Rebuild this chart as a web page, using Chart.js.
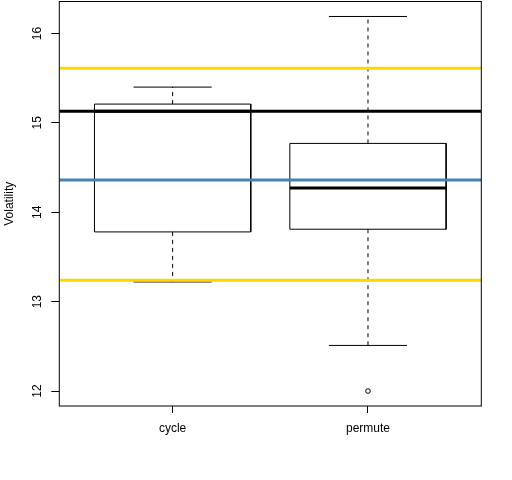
<!DOCTYPE html>
<html>
<head>
<meta charset="utf-8">
<script src="https://cdn.jsdelivr.net/npm/chart.js@4.4.0/dist/chart.umd.min.js"></script>
<style>
  html, body { margin: 0; padding: 0; background: #ffffff; }
  #wrap { width: 512px; height: 480px; }
</style>
</head>
<body>
<div id="wrap"><canvas id="c" width="512" height="480"></canvas></div>
<script>
// ---- data ----
const categories   = ['cycle', 'permute'];
const lowerWhisker = [13.22, 12.51];
const q1           = [13.78, 13.81];
const median       = [15.13, 14.27];
const q3           = [15.21, 14.77];
const upperWhisker = [15.40, 16.19];
const outliers     = [[], [12.00]];
const yTickValues  = [12, 13, 14, 15, 16];
const refLineValues = [15.61, 13.24, 15.13, 14.36];
const refLineColors = ['#FFD700', '#FFD700', '#000000', '#4682B4'];
const yTitle = 'Volatility';

// ---- axis ranges as R computes them (4% expansion) ----
const allVals = [].concat(lowerWhisker, upperWhisker, ...outliers);
const dMin = Math.min(...allVals), dMax = Math.max(...allVals);
const yPad = (dMax - dMin) * 0.04;
const yMin = dMin - yPad, yMax = dMax + yPad;
const xLo = 0.5, xHi = categories.length + 0.5;
const xPad = (xHi - xLo) * 0.04;
const xMin = xLo - xPad, xMax = xHi + xPad;

const BOX_HALF = 0.4, CAP_HALF = 0.2;
const datasets = [];

function seg(points, opts) {
  return Object.assign({
    data: points, showLine: true, pointRadius: 0, pointHoverRadius: 0,
    borderColor: '#000', borderWidth: 1, fill: false, tension: 0, order: 2
  }, opts);
}

categories.forEach((cat, i) => {
  const c = i + 1;
  // box
  datasets.push(seg([
    {x: c - BOX_HALF, y: q1[i]}, {x: c - BOX_HALF, y: q3[i]},
    {x: c + BOX_HALF, y: q3[i]}, {x: c + BOX_HALF, y: q1[i]},
    {x: c - BOX_HALF, y: q1[i]}
  ], {borderJoinStyle: 'miter'}));
  // whiskers (dashed)
  datasets.push(seg([{x: c, y: q3[i]}, {x: c, y: upperWhisker[i]}], {borderDash: [4, 4]}));
  datasets.push(seg([{x: c, y: q1[i]}, {x: c, y: lowerWhisker[i]}], {borderDash: [4, 4]}));
  // caps
  datasets.push(seg([{x: c - CAP_HALF, y: upperWhisker[i]}, {x: c + CAP_HALF, y: upperWhisker[i]}]));
  datasets.push(seg([{x: c - CAP_HALF, y: lowerWhisker[i]}, {x: c + CAP_HALF, y: lowerWhisker[i]}]));
  // median
  datasets.push(seg([{x: c - BOX_HALF, y: median[i]}, {x: c + BOX_HALF, y: median[i]}], {borderWidth: 3}));
  // outliers
  if (outliers[i].length) {
    datasets.push({
      data: outliers[i].map(v => ({x: c, y: v})), showLine: false,
      pointRadius: 2.3, pointStyle: 'circle', pointBorderColor: '#000',
      pointBackgroundColor: '#fff', pointBorderWidth: 1, order: 2
    });
  }
});

// reference lines across the full plot
refLineValues.forEach((v, k) => {
  datasets.push(seg([{x: xMin, y: v}, {x: xMax, y: v}], {
    borderColor: refLineColors[k], borderWidth: 3, order: 0
  }));
});

const FONT = '12px "Liberation Sans", Arial, sans-serif';

const framePlugin = {
  id: 'rframe',
  afterDraw(chart) {
    const {ctx, chartArea: a, scales} = chart;
    ctx.save();
    ctx.strokeStyle = '#000';
    ctx.lineWidth = 1;
    ctx.strokeRect(a.left, a.top, a.right - a.left, a.bottom - a.top);
    ctx.fillStyle = '#000';
    ctx.font = FONT;
    // y tick labels (rotated, like R)
    yTickValues.forEach(v => {
      const py = scales.y.getPixelForValue(v);
      ctx.save();
      ctx.translate(a.left - 21.5, py);
      ctx.rotate(-Math.PI / 2);
      ctx.textAlign = 'center';
      ctx.textBaseline = 'middle';
      ctx.fillText(String(v), 0, 0);
      ctx.restore();
    });
    // x category labels
    categories.forEach((cat, i) => {
      const px = scales.x.getPixelForValue(i + 1);
      ctx.textAlign = 'center';
      ctx.textBaseline = 'middle';
      ctx.fillText(cat, px, a.bottom + 23);
    });
    // y title
    ctx.save();
    ctx.translate(10, (a.top + a.bottom) / 2);
    ctx.rotate(-Math.PI / 2);
    ctx.textAlign = 'center';
    ctx.textBaseline = 'middle';
    ctx.fillText(yTitle, 0, 0);
    ctx.restore();
    ctx.restore();
  }
};

new Chart(document.getElementById('c'), {
  type: 'scatter',
  data: { datasets },
  plugins: [framePlugin],
  options: {
    responsive: false,
    animation: false,
    devicePixelRatio: 1,
    layout: { autoPadding: false, padding: { left: 0, top: 1.5, right: 30.7, bottom: 0 } },
    plugins: { legend: { display: false }, tooltip: { enabled: false } },
    scales: {
      x: {
        type: 'linear', min: xMin, max: xMax,
        afterBuildTicks: s => { s.ticks = categories.map((c, i) => ({ value: i + 1 })); },
        afterFit: s => { s.height = 74; },
        ticks: { display: false },
        border: { display: false },
        grid: { drawOnChartArea: false, drawTicks: true, tickLength: 7, color: '#000', lineWidth: 1 }
      },
      y: {
        type: 'linear', min: yMin, max: yMax,
        afterBuildTicks: s => { s.ticks = yTickValues.map(v => ({ value: v })); },
        afterFit: s => { s.width = 59.3; },
        ticks: { display: false },
        border: { display: false },
        grid: { drawOnChartArea: false, drawTicks: true, tickLength: 8, color: '#000', lineWidth: 1 }
      }
    }
  }
});
</script>
</body>
</html>
